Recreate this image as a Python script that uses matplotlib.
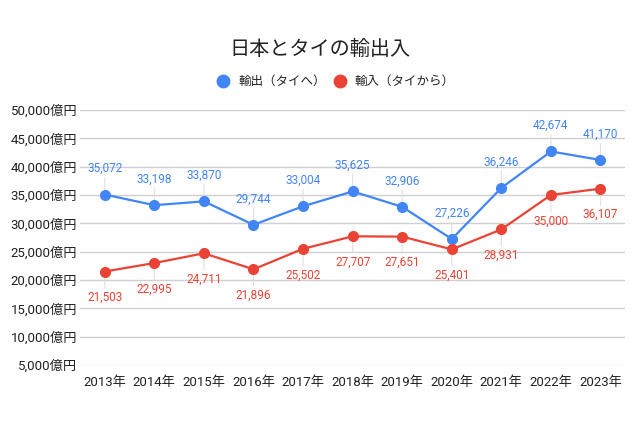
import matplotlib.pyplot as plt
from matplotlib.lines import Line2D
from matplotlib.ticker import FuncFormatter

plt.rcParams['font.family'] = ['Roboto', 'Noto Sans CJK JP', 'DejaVu Sans']

years = ['2013年', '2014年', '2015年', '2016年', '2017年', '2018年',
         '2019年', '2020年', '2021年', '2022年', '2023年']
exports = [35072, 33198, 33870, 29744, 33004, 35625, 32906, 27226, 36246, 42674, 41170]
imports = [21503, 22995, 24711, 21896, 25502, 27707, 27651, 25401, 28931, 35000, 36107]

blue = '#4285F4'
red = '#EA4335'

fig = plt.figure(figsize=(6.4, 4.26), dpi=100)
ax = fig.add_axes([0.125, 0.143, 0.852, 0.599])

x = list(range(len(years)))
ax.plot(x, exports, color=blue, linewidth=1.6, marker='o', markersize=7, zorder=3)
ax.plot(x, imports, color=red, linewidth=1.6, marker='o', markersize=7, zorder=3)

# data labels with small leader lines (kept behind the markers)
for i in x:
    ax.annotate(f'{exports[i]:,}', (i, exports[i]), xytext=(0, 14), textcoords='offset points',
                ha='center', va='bottom', fontsize=8.5, color=blue, zorder=2,
                arrowprops=dict(arrowstyle='-', color='#e0e0e0', lw=0.8, shrinkA=0, shrinkB=0))
    ax.annotate(f'{imports[i]:,}', (i, imports[i]), xytext=(0, -14), textcoords='offset points',
                ha='center', va='top', fontsize=8.5, color=red, zorder=2,
                arrowprops=dict(arrowstyle='-', color='#e0e0e0', lw=0.8, shrinkA=0, shrinkB=0))

ax.set_xlim(-0.5, len(years) - 0.5)
ax.set_ylim(5000, 50000)
ax.set_yticks(range(5000, 50001, 5000))
ax.yaxis.set_major_formatter(FuncFormatter(lambda v, p: f'{int(v):,}億円'))
ax.set_xticks(x)
ax.set_xticklabels(years)
ax.tick_params(axis='both', length=0, labelsize=9.5, colors='#222222')
ax.tick_params(axis='x', pad=8)
ax.tick_params(axis='y', pad=2)
ax.grid(axis='y', color='#d0d0d0', linewidth=1)
ax.set_axisbelow(True)
for s in ax.spines.values():
    s.set_visible(False)

fig.text(0.5, 0.885, '日本とタイの輸出入', ha='center', va='center', fontsize=14.5, color='#222222')

handles = [Line2D([], [], linestyle='none', marker='o', markersize=9, color=blue),
           Line2D([], [], linestyle='none', marker='o', markersize=9, color=red)]
fig.legend(handles, ['輸出（タイへ）', '輸入（タイから）'], loc='center', bbox_to_anchor=(0.52, 0.808),
           ncol=2, frameon=False, fontsize=9, handletextpad=0.2, columnspacing=0.1,
           labelcolor='#222222')

fig.savefig('out.png', dpi=100, facecolor='white')
